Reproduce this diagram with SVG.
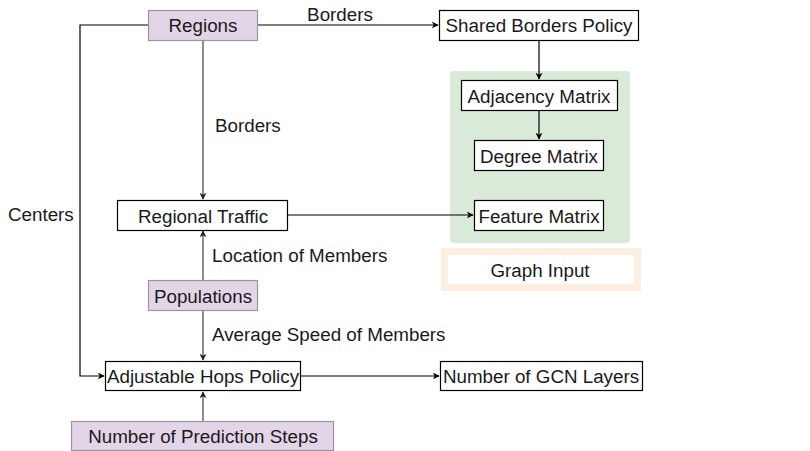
<svg xmlns="http://www.w3.org/2000/svg" width="810" height="451" viewBox="0 0 810 451">
<defs>
<marker id="arr" viewBox="0 0 10 10" refX="9" refY="5" markerWidth="7" markerHeight="7" orient="auto" markerUnits="userSpaceOnUse">
<path d="M0,0 L10,5 L0,10 L3,5 Z" fill="#000"/>
</marker>
<marker id="arrg" viewBox="0 0 10 10" refX="9" refY="5" markerWidth="7" markerHeight="7" orient="auto" markerUnits="userSpaceOnUse">
<path d="M0,0 L10,5 L0,10 L3,5 Z" fill="#222"/>
</marker>
</defs>
<style>
text{font-family:"Liberation Sans",Arial,sans-serif;font-size:18.8px;fill:#1a1a1a;text-anchor:middle;dominant-baseline:central}
.lbl{text-anchor:start}
.box{fill:#fff;stroke:#000;stroke-width:1.2}
.src{fill:#e1d5e7;stroke:#9e93a3;stroke-width:1.2}
.c{fill:none;stroke:#000;stroke-width:1.2}
.cg{fill:none;stroke:#666;stroke-width:1.5}
</style>
<rect width="810" height="451" fill="#fff"/>
<g id="graph-container">
<rect x="450" y="71" width="180" height="172" rx="4" fill="#d5e8d4" opacity="0.9"/>
</g>
<g id="graph-input">
<rect x="444.5" y="251.5" width="193" height="36" fill="#fff" stroke="#fdeee2" stroke-width="7"/>
<text x="540" y="270">Graph Input</text>
</g>
<g id="connectors">
<path class="c" d="M258,25 H438" marker-end="url(#arr)"/>
<path class="c" d="M539,40 V79" marker-end="url(#arr)"/>
<path class="c" d="M539,110 V139" marker-end="url(#arr)"/>
<path class="cg" d="M203,40 V199" marker-end="url(#arrg)"/>
<path class="c" d="M288,215 H473" marker-end="url(#arr)"/>
<path class="c" d="M148,25 H80 V376 H104" marker-end="url(#arr)"/>
<path class="cg" d="M203,281 V231" marker-end="url(#arrg)"/>
<path class="cg" d="M203,311 V360" marker-end="url(#arrg)"/>
<path class="cg" d="M203,421 V392" marker-end="url(#arrg)"/>
<path class="c" d="M300,376 H439" marker-end="url(#arr)"/>
<text x="340" y="14">Borders</text>
<text class="lbl" x="215" y="125">Borders</text>
<text class="lbl" x="8" y="214">Centers</text>
<text class="lbl" x="212" y="255">Location of Members</text>
<text class="lbl" x="212" y="334">Average Speed of Members</text>
</g>
<g id="regions">
<rect class="src" x="148.5" y="10.5" width="109" height="30"/>
<text x="203" y="25">Regions</text>
</g>
<g id="shared-borders-policy">
<rect class="box" x="439.5" y="10.5" width="199" height="30"/>
<text x="539" y="25">Shared Borders Policy</text>
</g>
<g id="adjacency-matrix">
<rect class="box" x="461.5" y="80.5" width="156" height="30"/>
<text x="539" y="96">Adjacency Matrix</text>
</g>
<g id="degree-matrix">
<rect class="box" x="474.5" y="140.5" width="129" height="30"/>
<text x="539" y="156">Degree Matrix</text>
</g>
<g id="feature-matrix">
<rect class="box" x="474.5" y="200.5" width="129" height="30"/>
<text x="539" y="216">Feature Matrix</text>
</g>
<g id="regional-traffic">
<rect class="box" x="117.5" y="200.5" width="170" height="30"/>
<text x="203" y="216">Regional Traffic</text>
</g>
<g id="populations">
<rect class="src" x="148.5" y="280.5" width="109" height="30"/>
<text x="203" y="296">Populations</text>
</g>
<g id="adjustable-hops-policy">
<rect class="box" x="105.5" y="361.5" width="195" height="29"/>
<text x="203" y="376">Adjustable Hops Policy</text>
</g>
<g id="number-of-gcn-layers">
<rect class="box" x="440.5" y="361.5" width="202" height="29"/>
<text x="541" y="376">Number of GCN Layers</text>
</g>
<g id="number-of-prediction-steps">
<rect class="src" x="71.5" y="421.5" width="262" height="29"/>
<text x="203" y="436">Number of Prediction Steps</text>
</g>
</svg>
